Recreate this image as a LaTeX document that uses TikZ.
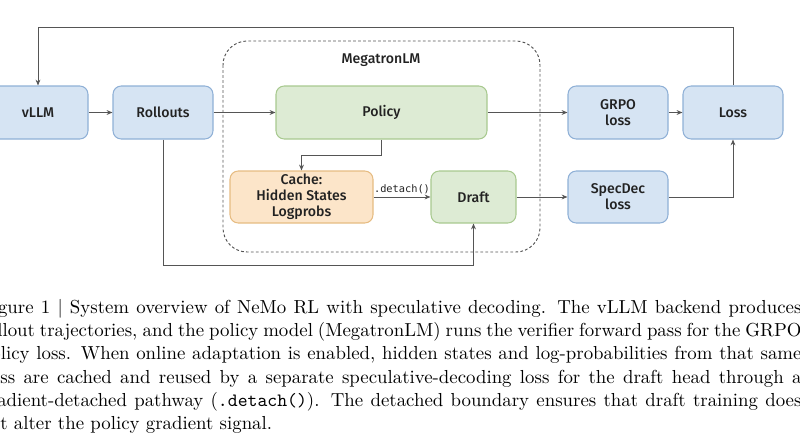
\documentclass[tikz,border=0pt]{standalone}
\usepackage{fontspec}
\newfontfamily\diagfont{Fira Sans Medium}
\newfontfamily\detfont{DejaVu Sans Mono}
\usetikzlibrary{arrows.meta,calc}
\newlength{\pxlen}
\setlength{\pxlen}{0.5814pt}
\definecolor{bfill}{HTML}{D6E4F3}
\definecolor{bdraw}{HTML}{8FB0D6}
\definecolor{gfill}{HTML}{DDEBD4}
\definecolor{gdraw}{HTML}{A8C98F}
\definecolor{ofill}{HTML}{FCE5C9}
\definecolor{odraw}{HTML}{E6BC82}
\definecolor{linec}{HTML}{555555}
\definecolor{textc}{HTML}{222222}
\begin{document}
\begin{tikzpicture}[x=0.5814pt,y=-0.5814pt,
  box/.style={rounded corners=4.8pt, minimum height=53\pxlen, inner sep=0pt,
    align=center, text=textc, line width=0.6pt,
    font=\diagfont\fontsize{8.2}{9.4}\selectfont},
  bluebox/.style={box, fill=bfill, draw=bdraw},
  greenbox/.style={box, fill=gfill, draw=gdraw},
  orangebox/.style={box, fill=ofill, draw=odraw},
  arr/.style={draw=linec, line width=0.55pt, -{Stealth[length=3.4pt,width=2.8pt]}},
  plainline/.style={draw=linec, line width=0.55pt}
]
\useasboundingbox (0,0) rectangle (800,445);

% dashed MegatronLM container
\draw[draw=linec, line width=0.55pt, dash pattern=on 1.6pt off 1.3pt, rounded corners=14pt]
  (223,41) rectangle (540,252);
\node[font=\diagfont\fontsize{8.2}{9.4}\selectfont, text=textc] (mlm) at (381,60) {MegatronLM};

% boxes
\node[bluebox, minimum width=100\pxlen] (vllm) at (38,112.5) {vLLM};
\node[bluebox, minimum width=100\pxlen] (roll) at (163,112.5) {Rollouts};
\node[greenbox, minimum width=211\pxlen] (policy) at (381.5,112.5) {Policy};
\node[bluebox, minimum width=100\pxlen] (grpo) at (618,112.5) {GRPO\\loss};
\node[bluebox, minimum width=100\pxlen] (loss) at (733,112.5) {Loss};
\node[orangebox, minimum width=143\pxlen, minimum height=52\pxlen] (cache) at (301.5,197) {Cache:\\Hidden States\\Logprobs};
\node[greenbox, minimum width=85\pxlen, minimum height=52\pxlen] (draft) at (473.5,197) {Draft};
\node[bluebox, minimum width=100\pxlen, minimum height=52\pxlen] (spec) at (618,197) {SpecDec\\loss};

% connectors
\draw[arr] (vllm.east) -- (roll.west);
\draw[arr] (roll.east) -- (policy.west);
\draw[arr] (policy.east) -- (grpo.west);
\draw[arr] (grpo.east) -- (loss.west);
\coordinate (pc) at ($(policy.south)+(0,16)$);
\draw[arr] (policy.south) -- (pc) -| (cache.north);
\draw[arr] (cache.east) -- node[above=0.2pt, font=\detfont\fontsize{6}{7}\selectfont, text=textc, inner sep=1.5pt] {.detach()} (draft.west);
\draw[arr] (draft.east) -- (spec.west);
\coordinate (rb) at ($(roll.south)+(0,126)$);
\draw[arr] (roll.south) -- (rb) -| (draft.south);
\draw[arr] (spec.east) -| (loss.south);
\coordinate (lt) at ($(loss.north)+(0,-58)$);
\draw[arr] (loss.north) -- (lt) -| (vllm.north);

% caption
\node[anchor=base west, inner sep=0pt, outer sep=0pt] (cap) at (-19.5,313) {\parbox[t]{821\pxlen}{\fontsize{10.95}{13.6}\selectfont
Figure 1 | System overview of NeMo RL with speculative decoding. The vLLM backend produces\linebreak
rollout trajectories, and the policy model (MegatronLM) runs the verifier forward pass for the GRPO\linebreak
policy loss. When online adaptation is enabled, hidden states and log-probabilities from that same\linebreak
pass are cached and reused by a separate speculative-decoding loss for the draft head through a\linebreak
gradient-detached pathway (\texttt{.detach()}). The detached boundary ensures that draft training does\linebreak
not alter the policy gradient signal.}};
\end{tikzpicture}
\end{document}
